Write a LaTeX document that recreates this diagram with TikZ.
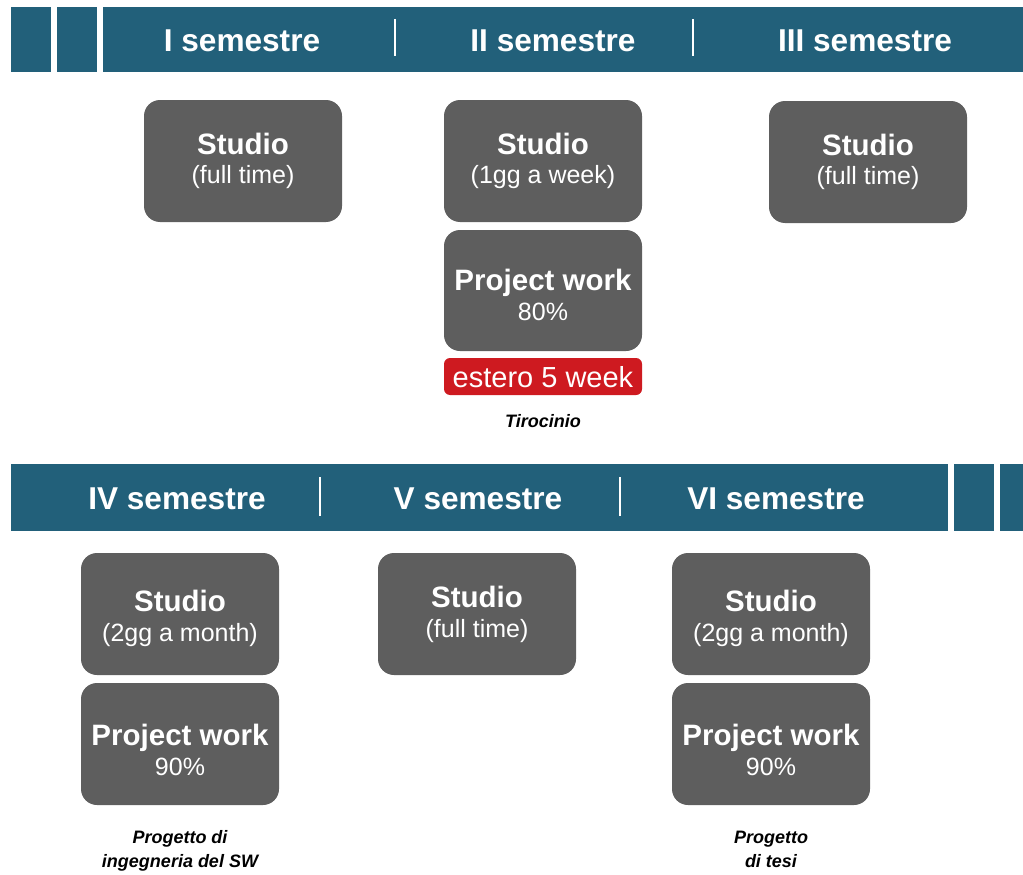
\documentclass[tikz,border=0pt]{standalone}
\usepackage{fontspec}
\setmainfont{Liberation Sans}
\definecolor{barblue}{RGB}{34,96,122}
\definecolor{boxgray}{RGB}{94,94,94}
\definecolor{estred}{RGB}{206,26,32}
\begin{document}
\begin{tikzpicture}[x=1pt,y=-1pt,
  barseg/.style={fill=barblue},
  divider/.style={draw=white,line width=1.6pt},
  hdr/.style={text=white,font=\bfseries\fontsize{31.6}{32}\selectfont,anchor=base,inner sep=0},
  graybox/.style={fill=boxgray,rounded corners=16pt,minimum width=198pt,minimum height=122pt,inner sep=0},
  redbox/.style={fill=estred,rounded corners=6pt,minimum width=198pt,minimum height=37pt,inner sep=0},
  bigtxt/.style={text=white,font=\bfseries\fontsize{29.5}{30}\selectfont,anchor=base,inner sep=0},
  subtxt/.style={text=white,font=\fontsize{25}{25}\selectfont,anchor=base,inner sep=0},
  redtxt/.style={text=white,font=\fontsize{29}{29}\selectfont,anchor=base,inner sep=0},
  note/.style={text=black,font=\bfseries\itshape\fontsize{18}{18}\selectfont,anchor=base,inner sep=0}]
\useasboundingbox (0,0) rectangle (1023,875);
% top bar
\fill[barseg] (11,7) rectangle (51,72);
\fill[barseg] (57,7) rectangle (97,72);
\fill[barseg] (103,7) rectangle (1023,72);
\draw[divider] (395,19) -- (395,56);
\draw[divider] (693,19) -- (693,56);
\node[hdr] (h1) at (242,52) {I semestre};
\node[hdr] (h2) at (553,52) {II semestre};
\node[hdr] (h3) at (865,52) {III semestre};
% bottom bar
\fill[barseg] (11,464) rectangle (948,531);
\fill[barseg] (954,464) rectangle (994,531);
\fill[barseg] (1000,464) rectangle (1023,531);
\draw[divider] (320,477) -- (320,516);
\draw[divider] (620,477) -- (620,516);
\node[hdr] (h4) at (177,509) {IV semestre};
\node[hdr] (h5) at (478,509) {V semestre};
\node[hdr] (h6) at (776,509) {VI semestre};
% row 1
\node[graybox] (a) at (243,161) {};
\node[bigtxt] (at) at (243,154) {Studio};
\node[subtxt] (as) at (243,183) {(full time)};
\node[graybox] (b) at (543,161) {};
\node[bigtxt] (bt) at (543,154) {Studio};
\node[subtxt] (bs) at (543,183) {(1gg a week)};
\node[graybox] (c) at (868,162) {};
\node[bigtxt] (ct) at (868,155) {Studio};
\node[subtxt] (cs) at (868,184) {(full time)};
\node[graybox,minimum height=121pt] (b2) at (543,290.5) {};
\node[bigtxt] (b2t) at (543,290) {Project work};
\node[subtxt] (b2s) at (543,320) {80\%};
\node[redbox] (r) at (543,376.5) {};
\node[redtxt] (rt) at (543,387) {estero 5 week};
\node[note] (tir) at (543,427) {Tirocinio};
% row 2
\node[graybox] (d) at (180,614) {};
\node[bigtxt] (dt) at (180,611) {Studio};
\node[subtxt] (ds) at (180,641) {(2gg a month)};
\node[graybox] (e) at (477,614) {};
\node[bigtxt] (et) at (477,607) {Studio};
\node[subtxt] (es) at (477,637) {(full time)};
\node[graybox] (f) at (771,614) {};
\node[bigtxt] (ft) at (771,611) {Studio};
\node[subtxt] (fs) at (771,641) {(2gg a month)};
\node[graybox] (d2) at (180,744) {};
\node[bigtxt] (d2t) at (180,745) {Project work};
\node[subtxt] (d2s) at (180,775) {90\%};
\node[graybox] (f2) at (771,744) {};
\node[bigtxt] (f2t) at (771,745) {Project work};
\node[subtxt] (f2s) at (771,775) {90\%};
\node[note] (n1) at (180,843) {Progetto di};
\node[note] (n2) at (180,867) {ingegneria del SW};
\node[note] (n3) at (771,843) {Progetto};
\node[note] (n4) at (771,867) {di tesi};
\end{tikzpicture}
\end{document}
